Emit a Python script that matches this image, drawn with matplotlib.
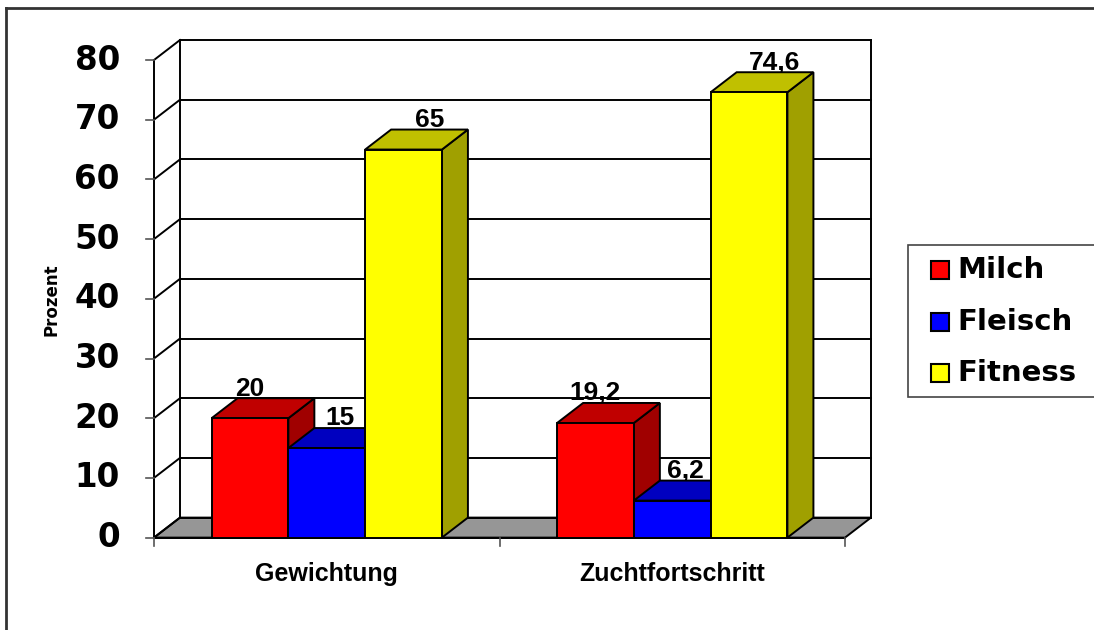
import numpy as np
import matplotlib
matplotlib.use("Agg")
import matplotlib.pyplot as plt
from matplotlib.patches import Polygon, Rectangle
from matplotlib.lines import Line2D

# data
categories = ["Gewichtung", "Zuchtfortschritt"]
series = ["Milch", "Fleisch", "Fitness"]
values = {
    "Milch": [20, 19.2],
    "Fleisch": [15, 6.2],
    "Fitness": [65, 74.6],
}
labels = {
    "Milch": ["20", "19,2"],
    "Fleisch": ["15", "6,2"],
    "Fitness": ["65", "74,6"],
}
yticks = [0, 10, 20, 30, 40, 50, 60, 70, 80]

# face colours: front, top, side
colors = {
    "Milch": ("#FF0000", "#C00000", "#A00000"),
    "Fleisch": ("#0000FF", "#0000C0", "#0000A0"),
    "Fitness": ("#FFFF00", "#C0C000", "#A0A000"),
}

W, H = 1094, 630
fig = plt.figure(figsize=(W / 100, H / 100), dpi=100)

def fx(px):
    return px / W

def fy(py):
    return 1 - py / H

# front plane of the plot in pixels
x_left, x_right = 154, 845
y_top, y_bot = 60, 537.6
ax = fig.add_axes([fx(x_left), fy(y_bot), fx(x_right) - fx(x_left), fy(y_top) - fy(y_bot)])
ncat = len(categories)
ymax = yticks[-1]
ax.set_xlim(0, ncat)
ax.set_ylim(0, ymax)
ax.axis("off")

# depth offset (26 px right, 20 px up) in data units
dx = 26 / (x_right - x_left) * ncat
dy = 20 / (y_bot - y_top) * ymax

lw = 1.4
# floor
floor = Polygon([(0, 0), (ncat, 0), (ncat + dx, dy), (dx, dy)], closed=True,
                facecolor="#969696", edgecolor="black", lw=lw, zorder=1, clip_on=False)
ax.add_patch(floor)

# back wall gridlines and side diagonals
for v in yticks:
    ax.plot([dx, ncat + dx], [v + dy, v + dy], color="black", lw=lw, zorder=1, clip_on=False)
    ax.plot([0, dx], [v, v + dy], color="black", lw=lw, zorder=1, clip_on=False)
ax.plot([dx, dx], [dy, ymax + dy], color="black", lw=lw, zorder=1, clip_on=False)
ax.plot([ncat + dx, ncat + dx], [dy, ymax + dy], color="black", lw=lw, zorder=1, clip_on=False)
ax.plot([0, 0], [0, ymax], color="black", lw=lw, zorder=1, clip_on=False)
ax.plot([0, ncat], [0, 0], color="black", lw=lw, zorder=1, clip_on=False)

# ticks (gray) and labels
tick_len = 8 / (x_right - x_left) * ncat
for v in yticks:
    ax.plot([-tick_len, 0], [v, v], color="#555555", lw=1.2, zorder=1, clip_on=False)
    ax.text(-34 / (x_right - x_left) * ncat, v, str(v), ha="right", va="center",
            fontsize=23.5, fontweight="bold", family="DejaVu Sans")
tick_len_y = 8 / (y_bot - y_top) * ymax
for c in range(ncat + 1):
    ax.plot([c, c], [0, -tick_len_y], color="#555555", lw=1.2, zorder=1, clip_on=False)

narrow = ["Liberation Sans Narrow", "Liberation Sans", "DejaVu Sans"]
for i, cat in enumerate(categories):
    ax.text(i + 0.5, -36 / (y_bot - y_top) * ymax, cat, ha="center", va="center",
            fontsize=18, fontweight="bold", family=narrow)

# bars
gap = 1.5
w = 1 / (len(series) + gap)
for i in range(ncat):
    for j, s in enumerate(series):
        v = values[s][i]
        x0 = i + 0.5 - len(series) * w / 2 + j * w
        front, top, side = colors[s]
        z = 3 + i * 10 + j
        ax.text(x0 + w / 2 + j * dx / 2, v + dy + 1.6, labels[s][i], ha="center", va="center",
                fontsize=19, fontweight="bold", family=narrow, zorder=2)
        ax.add_patch(Polygon([(x0 + w, 0), (x0 + w + dx, dy), (x0 + w + dx, v + dy), (x0 + w, v)],
                             closed=True, facecolor=side, edgecolor="black", lw=lw, zorder=z, clip_on=False))
        ax.add_patch(Polygon([(x0, v), (x0 + w, v), (x0 + w + dx, v + dy), (x0 + dx, v + dy)],
                             closed=True, facecolor=top, edgecolor="black", lw=lw, zorder=z, clip_on=False))
        ax.add_patch(Rectangle((x0, 0), w, v, facecolor=front, edgecolor="black", lw=lw,
                               zorder=z, clip_on=False))

# y axis title
fig.text(fx(52), fy(300), "Prozent", rotation=90, ha="center", va="center",
         fontsize=12, fontweight="bold", family="DejaVu Sans")

# chart frame (left and top only, rest is cut off)
fig.add_artist(Line2D([fx(6), fx(W + 5)], [fy(8), fy(8)], color="#333333", lw=2))
fig.add_artist(Line2D([fx(6), fx(6)], [fy(8), fy(H + 5)], color="#333333", lw=2))

# legend
fig.add_artist(Rectangle((fx(908), fy(397)), fx(1110) - fx(908), fy(245) - fy(397),
                         facecolor="white", edgecolor="#444444", lw=1.2, transform=fig.transFigure))
row_y = [270, 322, 373]
for s, ry in zip(series, row_y):
    fig.add_artist(Rectangle((fx(931), fy(ry + 9)), fx(949) - fx(931), fy(ry - 9) - fy(ry + 9),
                             facecolor=colors[s][0], edgecolor="black", lw=1.5, transform=fig.transFigure))
    fig.text(fx(957), fy(ry), s, ha="left", va="center", fontsize=21, fontweight="bold",
             family="DejaVu Sans")

fig.savefig("out.png", dpi=100)
